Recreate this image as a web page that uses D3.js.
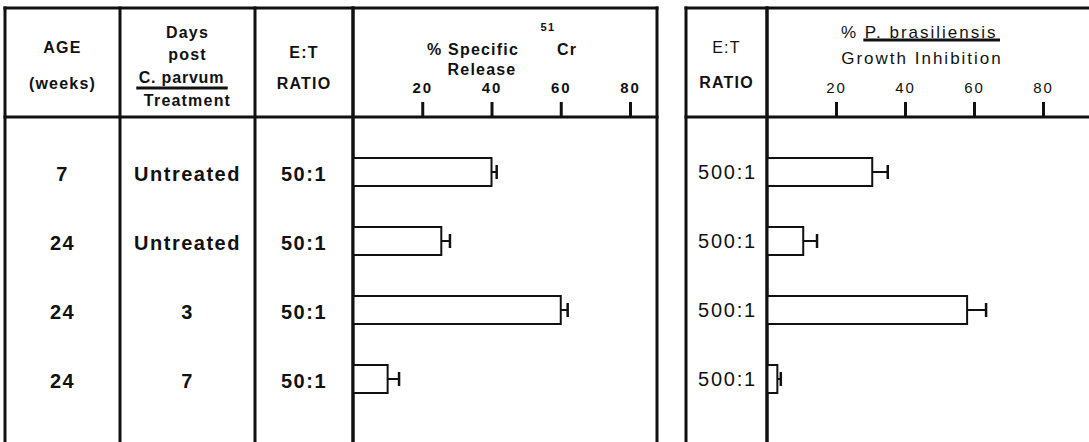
<!DOCTYPE html>
<html><head><meta charset="utf-8">
<script src="https://cdn.jsdelivr.net/npm/d3@7"></script>
<style>
html,body{margin:0;padding:0;background:#fff;}
svg{display:block;}
text{font-family:"Liberation Sans",Arial,Helvetica,sans-serif;fill:#111;}
</style></head>
<body>
<svg id="chart" width="1089" height="442"></svg>
<script>
// ---- data ----
const rows = ["r1","r2","r3","r4"];
const ages = ["7","24","24","24"];
const daysPost = ["Untreated","Untreated","3","7"];
const etRatioCr = ["50:1","50:1","50:1","50:1"];
const etRatioPb = ["500:1","500:1","500:1","500:1"];
const crRelease = [40, 25.5, 60, 10];
const crError = [1.5, 2.5, 2, 3.3];
const pbInhibition = [30.5, 10.5, 58, 3];
const pbError = [4.5, 4, 5.5, 1];
const tickValues = [20, 40, 60, 80];

const svg = d3.select("#chart");
const H = 442;
const topY = 8, headY = 117;

const y = d3.scalePoint().domain(rows).range([137.5, 413.5]).padding(0.5);
const barH = 28;

const xL = d3.scaleLinear().domain([0, 80]).range([353, 630]);
const xR = d3.scaleLinear().domain([0, 80]).range([767, 1043]);

const ink = "#111";
function line(x1,y1,x2,y2,w){
  svg.append("line").attr("x1",x1).attr("y1",y1).attr("x2",x2).attr("y2",y2)
    .attr("stroke",ink).attr("stroke-width",w).attr("stroke-linecap","square");
}
function txt(x,yy,s,size,weight,ls){
  return svg.append("text").attr("x",x).attr("y",yy).attr("text-anchor","middle")
    .attr("dominant-baseline","central").style("font-size",size+"px")
    .style("font-weight",weight||"bold").style("letter-spacing",(ls==null?1.2:ls)+"px").text(s);
}

// ---- left table frame ----
const Lx0 = 5, c1 = 120, c2 = 255, Lx3 = xL(0), Lx4 = 657;
line(Lx0, topY, Lx4, topY, 3);
line(Lx0, headY, Lx4, headY, 3);
[Lx0, c1, c2, Lx3, Lx4].forEach(x => line(x, topY, x, H+2, 3));

// ---- right table frame ----
const Rx0 = 686, Rx1 = xR(0);
line(Rx0, topY, 1095, topY, 3);
line(Rx0, headY, 1095, headY, 3);
[Rx0, Rx1].forEach(x => line(x, topY, x, H+2, 3));

// ---- left headers ----
txt((Lx0+c1)/2, 47, "AGE", 16);
txt((Lx0+c1)/2, 83, "(weeks)", 16);
const cm = (c1+c2)/2;
txt(cm, 32, "Days", 16);
txt(cm, 54, "post", 16);
const cp = txt(cm-6, 77, "C. parvum", 16, "bold", 0.8);
const cpw = cp.node().getComputedTextLength();
line(cm-6-cpw/2-1, 88, cm-6+cpw/2+2, 88, 3);
txt(cm, 100, "Treatment", 16);
txt((c2+Lx3)/2, 52, "E:T", 16);
txt((c2+Lx3)/2, 83, "RATIO", 16);

txt(473, 49, "% Specific", 16);
txt(548, 27, "51", 11, "bold", 1.5);
txt(567, 49, "Cr", 16);
txt(482, 69, "Release", 16);

// ---- right headers ----
txt((Rx0+Rx1)/2, 47, "E:T", 16, "normal");
txt((Rx0+Rx1)/2, 82, "RATIO", 16, "bold");
const pcs = svg.append("text").attr("x", 841).attr("y", 32).attr("text-anchor","start")
  .attr("dominant-baseline","central").style("font-size","17px").style("letter-spacing","2px");
pcs.append("tspan").text("% ");
pcs.append("tspan").text("P. brasiliensis");
const pStart = pcs.node().getStartPositionOfChar(2).x;
const pEnd = pcs.node().getEndPositionOfChar(pcs.node().getNumberOfChars()-1).x;
line(pStart, 40, pEnd + 1, 40, 3);
txt(922, 58, "Growth Inhibition", 17, "normal", 2);

// ---- axes ----
function axis(scale, labelWeight){
  const g = svg.append("g").attr("transform", `translate(0,${headY})`)
    .call(d3.axisTop(scale).tickValues(tickValues).tickSize(15).tickPadding(9).tickFormat(d3.format("d")));
  g.select(".domain").remove();
  g.selectAll(".tick line").attr("stroke", ink).attr("stroke-width", 3);
  g.selectAll(".tick text").attr("fill", ink)
    .style("font-family","\"Liberation Sans\",Arial,sans-serif")
    .style("font-size","15px").style("font-weight", labelWeight).style("letter-spacing","2px");
}
axis(xL, "bold");
axis(xR, "normal");

// ---- row labels ----
rows.forEach((r,i) => {
  txt((Lx0+c1)/2, y(r)+2, ages[i], 20, "bold", 1.5);
  txt(cm, y(r)+2, daysPost[i], 20, "bold", 1.5);
  txt((c2+Lx3)/2, y(r)+2, etRatioCr[i], 20, "bold", 1.5);
  txt((Rx0+Rx1)/2+1, y(r), etRatioPb[i], 20, "normal", 1.8);
});

// ---- bars ----
function bars(scale, vals, errs){
  const g = svg.append("g");
  g.selectAll("rect").data(rows).join("rect")
    .attr("x", scale(0)).attr("y", d => y(d) - barH/2)
    .attr("width", (d,i) => scale(vals[i]) - scale(0)).attr("height", barH)
    .attr("fill", "#fff").attr("stroke", ink).attr("stroke-width", 2);
  g.selectAll("line.err").data(rows).join("line").attr("class","err")
    .attr("x1", (d,i) => scale(vals[i])).attr("x2", (d,i) => scale(vals[i]+errs[i]))
    .attr("y1", d => y(d)).attr("y2", d => y(d))
    .attr("stroke", ink).attr("stroke-width", 2);
  g.selectAll("line.cap").data(rows).join("line").attr("class","cap")
    .attr("x1", (d,i) => scale(vals[i]+errs[i])).attr("x2", (d,i) => scale(vals[i]+errs[i]))
    .attr("y1", d => y(d) - 7).attr("y2", d => y(d) + 7)
    .attr("stroke", ink).attr("stroke-width", 2.5);
}
bars(xL, crRelease, crError);
bars(xR, pbInhibition, pbError);
line(Lx3, topY, Lx3, H+2, 3);
line(Rx1, topY, Rx1, H+2, 3);
</script>
</body></html>
